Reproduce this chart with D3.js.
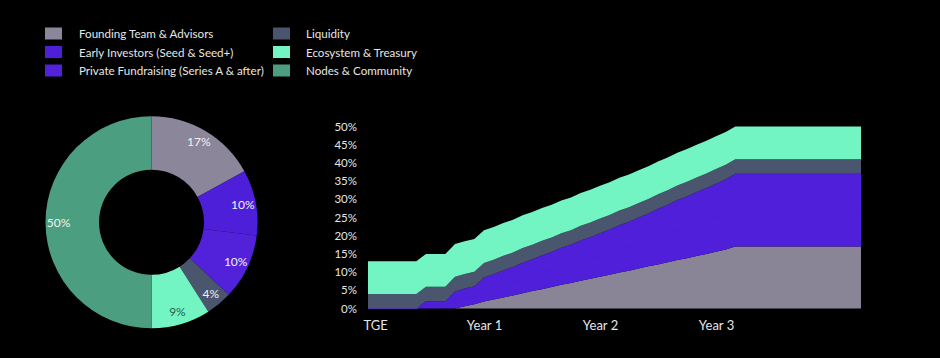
<!DOCTYPE html>
<html><head><meta charset="utf-8">
<script src="https://cdn.jsdelivr.net/npm/d3@7"></script>
<style>
html,body{margin:0;padding:0;background:#000;}
svg{display:block;}
text{font-family:Lato,"Open Sans",sans-serif;}
</style></head>
<body>
<svg id="chart" width="940" height="358"></svg>
<script>
// ---------- data ----------
const categories = ["Founding Team & Advisors","Early Investors (Seed & Seed+)","Private Fundraising (Series A & after)","Liquidity","Ecosystem & Treasury","Nodes & Community"];
const colors = ["#8b8699","#4d1fd8","#5221da","#4a556e","#72f5c3","#4c9e80"];
const allocation = [17,10,10,4,9,50];

const months = [0,1,2,3,4,5,6,7,8,9,10,11,12,13,14,15,16,17,18,19,20,21,22,23,24,25,26,27,28,29,30,31,32,33,34,35,36,37,38,39,40,41,42,43,44,45,46,47,48,49,50,51];
const founding = [0,0,0,0,0,0,0,0,0,0,0.6,1.2,1.9,2.5,3.0,3.6,4.2,4.8,5.3,5.9,6.5,7.0,7.6,8.2,8.7,9.3,9.9,10.4,11.0,11.6,12.1,12.7,13.3,13.8,14.4,15.0,15.6,16.2,17,17,17,17,17,17,17,17,17,17,17,17,17,17];
const earlyInv = [0,0,0,0,0,0,1,1,1,2.35,2.45,2.45,3.3,3.45,3.75,3.9,4.2,4.35,4.65,4.8,5.1,5.25,5.55,5.7,6.0,6.2,6.5,6.7,7.0,7.25,7.65,7.9,8.25,8.5,8.8,9.05,9.35,9.65,10,10,10,10,10,10,10,10,10,10,10,10,10,10];
const privateInv = [0,0,0,0,0,0,1,1,1,2.35,2.45,2.45,3.3,3.45,3.75,3.9,4.2,4.35,4.65,4.8,5.1,5.25,5.55,5.7,6.0,6.2,6.5,6.7,7.0,7.25,7.65,7.9,8.25,8.5,8.8,9.05,9.35,9.65,10,10,10,10,10,10,10,10,10,10,10,10,10,10];
const liquidity = [4,4,4,4,4,4,4,4,4,4,4,4,4,4,4,4,4,4,4,4,4,4,4,4,4,4,4,4,4,4,4,4,4,4,4,4,4,4,4,4,4,4,4,4,4,4,4,4,4,4,4,4];
const ecosystem = [9,9,9,9,9,9,9,9,9,9,9,9,9,9,9,9,9,9,9,9,9,9,9,9,9,9,9,9,9,9,9,9,9,9,9,9,9,9,9,9,9,9,9,9,9,9,9,9,9,9,9,9];

const yTicks = [0,5,10,15,20,25,30,35,40,45,50];
const xTickMonths = [0,12,24,36];
const xTickLabels = ["TGE","Year 1","Year 2","Year 3"];

// ---------- svg ----------
const svg = d3.select("#chart");
svg.append("rect").attr("width",940).attr("height",358).attr("fill","#000");

// ---------- legend ----------
const legendCols = [[0,1,2],[3,4,5]];
const legendX = [45,273], legendTextX = [79,306];
legendCols.forEach((col,ci)=>{
  col.forEach((k,ri)=>{
    const g = svg.append("g").attr("transform",`translate(0,${27.5+ri*18.5})`);
    g.append("rect").attr("x",legendX[ci]).attr("y",0).attr("width",17).attr("height",12).attr("fill",colors[k]);
    g.append("text").attr("x",legendTextX[ci]).attr("y",10.5).attr("fill","#e6e6e6")
      .attr("font-size","11.6px").text(categories[k]);
  });
});

// ---------- donut ----------
const pieData = categories.map((c,i)=>({name:c,value:allocation[i],color:colors[i]}));
const pie = d3.pie().sort(null).value(d=>d.value);
const arcs = pie(pieData);
const arc = d3.arc().innerRadius(52.5).outerRadius(106);
const labelArc = d3.arc().innerRadius(93).outerRadius(93);
const dg = svg.append("g").attr("transform","translate(151.5,222.3)");
dg.selectAll("path").data(arcs).enter().append("path")
  .attr("d",arc).attr("fill",d=>d.data.color);
dg.selectAll("text").data(arcs).enter().append("text")
  .attr("transform",d=>`translate(${labelArc.centroid(d)})`)
  .attr("text-anchor","middle").attr("dy","0.35em")
  .attr("font-size","12px")
  .attr("fill",d=>d.data.name==="Ecosystem & Treasury"?"#27604c":"#f2f2f2")
  .text(d=>d.data.value+"%");

// ---------- stacked area ----------
const rows = months.map((m,i)=>({month:m,founding:founding[i],early:earlyInv[i],priv:privateInv[i],liquidity:liquidity[i],ecosystem:ecosystem[i]}));
const keys = ["founding","early","priv","liquidity","ecosystem"];
const areaColors = ["#8a8596","#4f1fd9","#4f1fd9","#4a556e","#72f5c3"];
const series = d3.stack().keys(keys)(rows);

const x = d3.scaleLinear().domain([0,51]).range([368,861]);
const y = d3.scaleLinear().domain([0,50]).range([308.5,126.5]);

const area = d3.area().x(d=>x(d.data.month)).y0(d=>y(d[0])).y1(d=>y(d[1]));
const topLine = d3.line().x(d=>x(d.data.month)).y(d=>y(d[1]));
const ag = svg.append("g");
series.forEach((s,i)=>{
  ag.append("path").datum(s).attr("d",area).attr("fill",areaColors[i]);
  if(i===1){
    // solid edge under the next same-coloured band so no seam shows
    ag.append("path").datum(s).attr("d",topLine)
      .attr("fill","none").attr("stroke",areaColors[1]).attr("stroke-width",1.6);
  }
});

// y axis
const yAxis = d3.axisLeft(y).tickValues(yTicks).tickFormat(d=>d+"%").tickSize(0).tickPadding(0);
const yg = svg.append("g").attr("transform","translate(357,0)").call(yAxis);
yg.select(".domain").remove();
yg.selectAll("text").attr("fill","#e6e6e6").attr("font-size","11.5px").attr("font-family","Lato,'Open Sans',sans-serif");

// x axis
const xAxis = d3.axisBottom(x).tickValues(xTickMonths).tickFormat((d,i)=>xTickLabels[i]).tickSize(0).tickPadding(0);
const xg = svg.append("g").attr("transform","translate(0,321)").call(xAxis);
xg.select(".domain").remove();
xg.selectAll("text").attr("fill","#e6e6e6").attr("font-size","13px").attr("font-family","Lato,'Open Sans',sans-serif");
xg.selectAll("text").filter((d,i)=>i===0).attr("text-anchor","start").attr("dx","-5");
</script>
</body></html>
